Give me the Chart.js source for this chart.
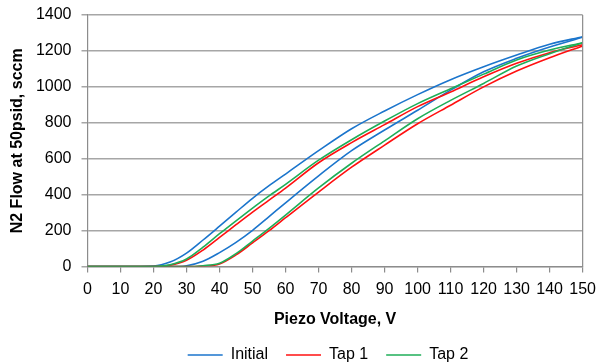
<!DOCTYPE html>
<html>
<head>
<meta charset="utf-8">
<script src="https://cdn.jsdelivr.net/npm/chart.js@4/dist/chart.umd.min.js"></script>
<style>
  body { margin: 0; background: #fff; }
  #wrap { width: 603px; height: 364px; position: relative; }
</style>
</head>
<body>
<div id="wrap"><canvas id="myChart"></canvas></div>
<script>
// piezo voltage (V) and N2 flow (sccm), up and down branch of each run
const voltage = [0, 10, 20, 25, 30, 35, 40, 45, 50, 55, 60, 70, 80, 90, 100, 110, 120, 130, 140, 150];
const initialUp = [0, 0, 0, 0, 5, 30, 78, 135, 202, 278, 355, 505, 645, 760, 870, 982, 1084, 1159, 1222, 1276];
const initialDown = [0, 0, 3, 25, 75, 148, 225, 303, 380, 450, 515, 645, 767, 866, 957, 1040, 1112, 1177, 1237, 1279];
const tap1Up = [0, 0, 0, 0, 0, 3, 15, 65, 132, 200, 272, 415, 553, 676, 795, 898, 1000, 1088, 1162, 1228];
const tap1Down = [0, 0, 0, 8, 35, 92, 162, 233, 303, 370, 437, 578, 690, 790, 890, 972, 1056, 1131, 1190, 1235];
const tap2Up = [0, 0, 0, 0, 0, 5, 19, 72, 142, 213, 287, 438, 575, 700, 823, 925, 1019, 1116, 1185, 1246];
const tap2Down = [0, 0, 0, 10, 42, 108, 183, 255, 325, 393, 458, 592, 706, 810, 907, 990, 1071, 1150, 1205, 1246];

const seriesNames = ["Initial", "Tap 1", "Tap 2"];
const seriesColors = ["#1b75cc", "#ff1010", "#1fae58"];
const branches = [[initialUp, initialDown], [tap1Up, tap1Down], [tap2Up, tap2Down]];

function toPoints(vals) {
  return vals.map((v, i) => ({ x: voltage[i], y: v }));
}

let datasets = [];
branches.forEach((pair, s) => {
  pair.forEach((vals, b) => {
    datasets.push({
      label: seriesNames[s],
      data: toPoints(vals),
      showLine: true,
      borderColor: seriesColors[s],
      backgroundColor: seriesColors[s],
      borderWidth: 1.6,
      pointRadius: 0,
      cubicInterpolationMode: "monotone",
      order: 3 - s,
      branch: b,
    });
  });
});

// shift legend to match Excel placement and draw the plot-area frame
const tweaks = {
  id: "tweaks",
  afterLayout(chart) {
    const lg = chart.legend;
    lg.left += 34;
    lg.right += 34;
  },
  afterDatasetsDraw(chart) {
    const a = chart.chartArea;
    const ctx = chart.ctx;
    ctx.save();
    ctx.strokeStyle = "#8c8c8c";
    ctx.lineWidth = 1.2;
    ctx.beginPath();
    ctx.moveTo(a.right, a.top);
    ctx.lineTo(a.right, a.bottom);
    ctx.stroke();
    ctx.restore();
  },
};

Chart.defaults.font.family = "'Liberation Sans', Arial, sans-serif";
Chart.defaults.color = "#000";

var ctx = document.getElementById("myChart").getContext("2d");
var myChart = new Chart(ctx, {
  type: "scatter",
  data: { datasets: datasets },
  options: {
    responsive: true,
    maintainAspectRatio: false,
    animation: false,
    layout: { padding: { top: 15, right: 15, left: 0, bottom: 0 } },
    scales: {
      x: {
        type: "linear",
        min: 0,
        max: 150,
        ticks: { stepSize: 10, padding: 7, font: { size: 16 }, maxRotation: 0, autoSkip: false },
        grid: { drawOnChartArea: false, drawTicks: true, tickLength: 6, color: "#8c8c8c", lineWidth: 1.2 },
        border: { color: "#8c8c8c", width: 1.2 },
        title: {
          display: true,
          text: "Piezo Voltage, V",
          font: { size: 16, weight: "bold" },
          padding: { top: 4, bottom: 0 },
        },
      },
      y: {
        min: 0,
        max: 1400,
        ticks: { stepSize: 200, padding: 10, font: { size: 16 }, callback: (v) => String(v) },
        grid: { color: "#a6a6a6", lineWidth: 1.5, tickLength: 6 },
        border: { color: "#8c8c8c", width: 1.2 },
        title: {
          display: true,
          text: "N2 Flow at 50psid, sccm",
          font: { size: 16, weight: "bold" },
          padding: { top: 8, bottom: 0 },
        },
        afterFit(scale) {
          scale.width = 87.5;
          scale.paddingTop = 0;
        },
      },
    },
    plugins: {
      legend: {
        position: "bottom",
        maxHeight: 35,
        labels: {
          usePointStyle: true,
          pointStyle: "line",
          pointStyleWidth: 35,
          padding: 18,
          font: { size: 16 },
          filter: (item, data) => data.datasets[item.datasetIndex].branch === 0,
          sort: (a, b) => a.datasetIndex - b.datasetIndex,
        },
      },
      tooltip: { enabled: false },
    },
  },
  plugins: [tweaks],
});
</script>
</body>
</html>
